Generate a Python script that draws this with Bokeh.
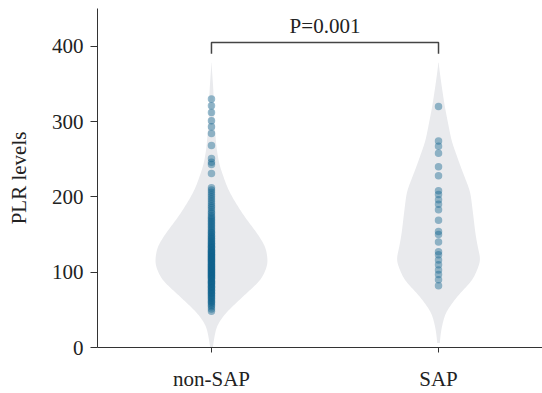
import numpy as np
from bokeh.plotting import figure
from bokeh.models import FixedTicker, Range1d
from bokeh.core.properties import value
from bokeh.embed import file_html
from bokeh.resources import INLINE

# ---- data ----
categories = ["non-SAP", "SAP"]
y_ticks = [0, 100, 200, 300, 400]

nonsap_plr = [48, 51, 54, 56, 58, 60, 61, 63, 65, 66, 68, 69, 71, 72, 73, 75, 76, 77, 79, 80,
              81, 82, 84, 85, 86, 87, 88, 89, 91, 92, 93, 94, 95, 96, 97, 98, 99, 100, 101, 102,
              103, 104, 105, 106, 107, 108, 109, 110, 111, 112, 113, 114, 115, 116, 117, 118,
              119, 120, 121, 122, 123, 124, 125, 126, 127, 128, 129, 130, 132, 133, 134, 135,
              137, 138, 139, 141, 142, 144, 145, 147, 148, 150, 152, 153, 155, 157, 159, 161,
              163, 165, 167, 169, 171, 173, 175, 178, 180, 183, 186, 188, 191, 194, 197, 200,
              203, 206, 209, 212, 231, 243, 246, 251, 268, 284, 293, 301, 312, 321, 330]
sap_plr = [320, 274, 267, 258, 240, 228, 208, 203, 196, 190, 183, 169, 154, 150, 140,
           127, 123, 116, 110, 103, 97, 90, 82]

# violin outlines (relative density at PLR level)
nonsap_levels = [0, 7, 29, 46, 68, 90, 111, 133, 150, 176, 199, 212, 242, 264, 300, 340, 378]
nonsap_density = [0.02, 0.035, 0.09, 0.25, 0.56, 0.88, 1.0, 0.96, 0.82, 0.56, 0.37, 0.28,
                  0.14, 0.09, 0.05, 0.035, 0.0]
sap_levels = [6, 25, 46, 68, 90, 116, 130, 151, 177, 207, 240, 274, 320, 350, 378]
sap_density = [0.02, 0.05, 0.12, 0.33, 0.61, 0.75, 0.70, 0.65, 0.61, 0.56, 0.39, 0.23,
               0.11, 0.05, 0.0]

p_label = "P=0.001"
bracket_y = 405
bracket_leg = 390

FONT = "Liberation Serif"
FS = "21px"

p = figure(width=542, height=393, output_backend="svg", toolbar_location=None,
           x_range=Range1d(-0.502, 1.458), y_range=Range1d(0, 450),
           min_border_left=97, min_border_right=0, min_border_top=8, min_border_bottom=41)
p.grid.visible = False
p.outline_line_color = None


def smooth_outline(levels, dens):
    yy = np.linspace(levels[0], levels[-1], 300)
    hw = np.interp(yy, levels, dens)
    k = np.exp(-0.5 * (np.arange(-12, 13) / 5.0) ** 2)
    k /= k.sum()
    padded = np.concatenate([np.full(12, hw[0]), hw, np.full(12, hw[-1])])
    hw = np.convolve(padded, k, mode="valid")
    return yy, hw


WIDTH = 0.25
for i, (lv, dn) in enumerate([(nonsap_levels, nonsap_density), (sap_levels, sap_density)]):
    yy, hw = smooth_outline(lv, dn)
    xs = np.concatenate([i - hw * WIDTH, (i + hw * WIDTH)[::-1]])
    ys = np.concatenate([yy, yy[::-1]])
    p.patch(xs, ys, fill_color="#e9eaed", line_color=None)

for i, vals in enumerate([nonsap_plr, sap_plr]):
    p.scatter([i] * len(vals), vals, size=7.5, fill_color="#0e628d", fill_alpha=0.42,
              line_color=None)

# significance bracket
p.line([0, 0, 1, 1], [bracket_leg, bracket_y, bracket_y, bracket_leg], line_color="#444444",
       line_width=1.5)
p.text([0.5], [427], text=[p_label], text_align="center", text_baseline="alphabetic",
       text_font=value(FONT), text_font_size=FS, text_color="#222222")

# axes
p.xaxis.ticker = FixedTicker(ticks=[0, 1])
p.xaxis.major_label_overrides = {0: categories[0], 1: categories[1]}
p.yaxis.ticker = FixedTicker(ticks=y_ticks)
p.yaxis.axis_label = "PLR levels"
for ax in (p.xaxis[0], p.yaxis[0]):
    ax.axis_line_color = "#333333"
    ax.major_tick_line_color = "#333333"
    ax.minor_tick_line_color = None
    ax.major_tick_in = 0
    ax.major_label_text_font = FONT
    ax.major_label_text_font_size = FS
    ax.major_label_text_color = "#222222"
    ax.axis_label_text_font = FONT
    ax.axis_label_text_font_size = FS
    ax.axis_label_text_font_style = "normal"
    ax.axis_label_text_color = "#222222"
p.yaxis.major_tick_out = 7
p.yaxis.major_label_standoff = 7
p.yaxis.axis_label_standoff = 18
p.xaxis.major_tick_out = 5
p.xaxis.major_label_standoff = 14

open("out.html", "w").write(file_html(p, INLINE))
